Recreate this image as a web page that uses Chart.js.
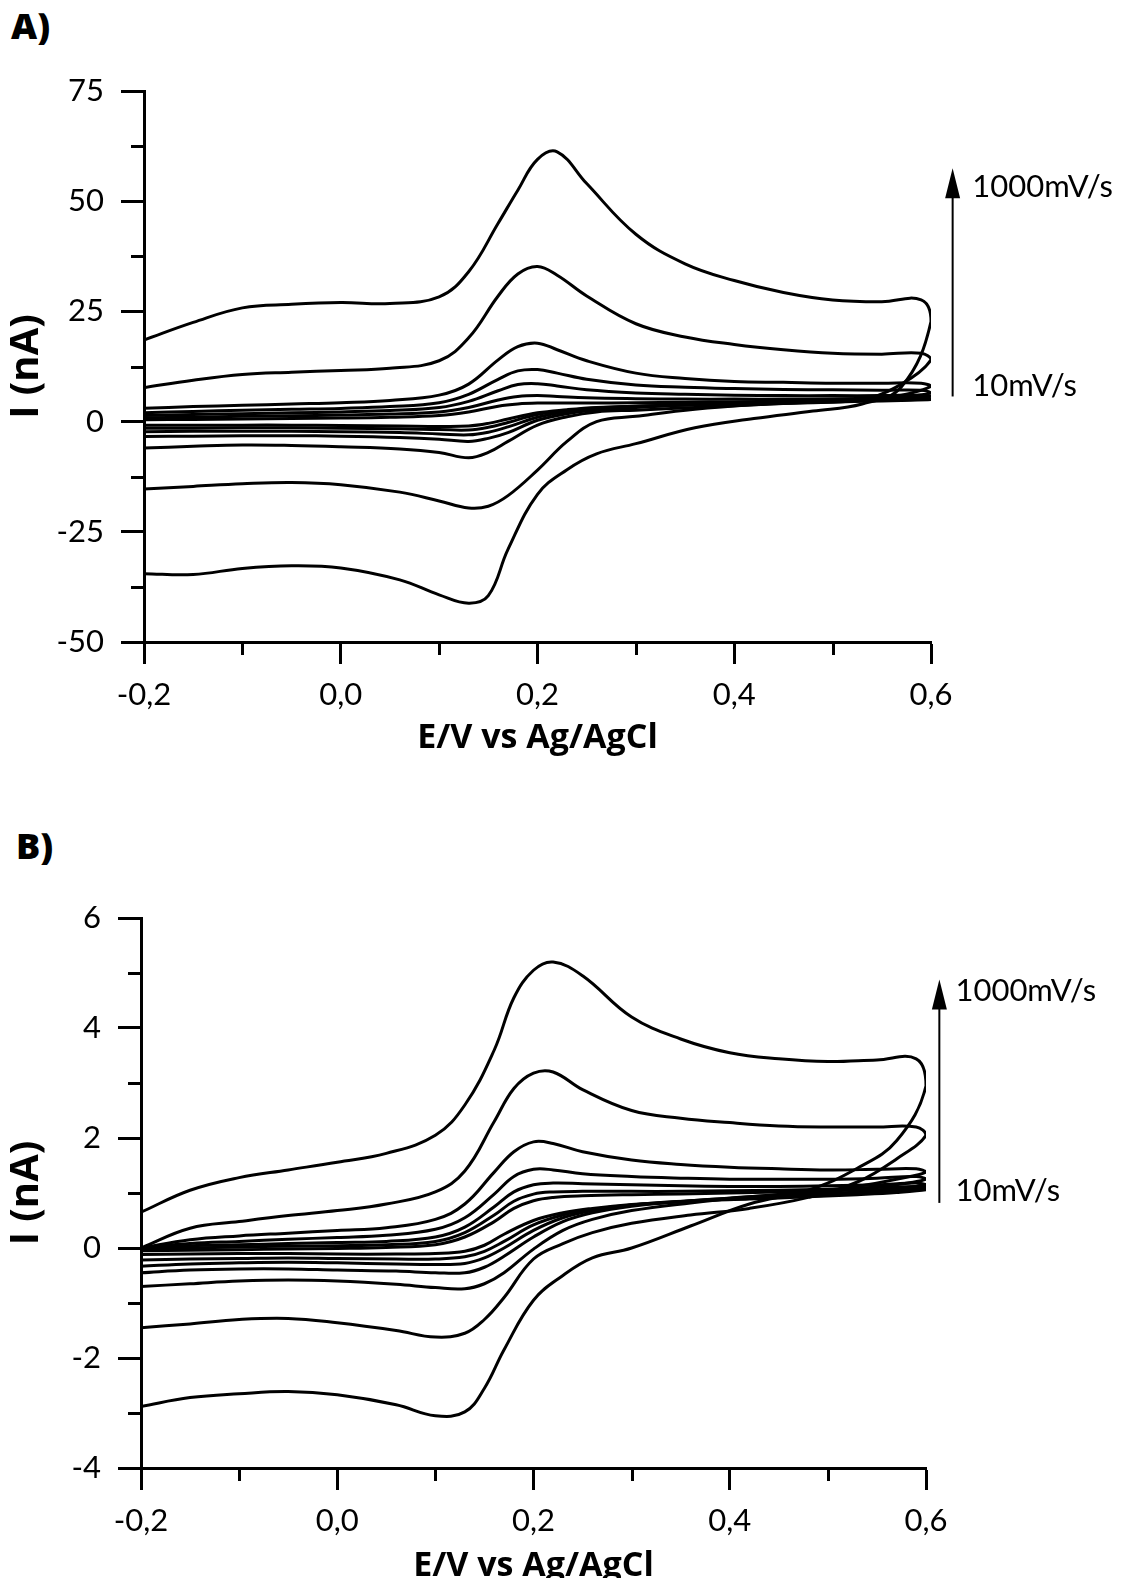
<!DOCTYPE html>
<html>
<head>
<meta charset="utf-8">
<script src="https://cdn.jsdelivr.net/npm/chart.js@4.4.0/dist/chart.umd.min.js"></script>
<style>
  html, body { margin: 0; padding: 0; background: #fff; }
  body { width: 1122px; height: 1578px; overflow: hidden; position: relative; }
  canvas { position: absolute; left: 0; }
  #chartA { top: 0; }
  #chartB { top: 780px; }
  .panel { position: absolute; font: 800 36px "Open Sans", sans-serif; color: #000; }
</style>
</head>
<body>
<div class="panel" style="left:11px; top:1px;">A)</div>
<div class="panel" style="left:16px; top:821px;">B)</div>
<canvas id="chartA" width="1122" height="780"></canvas>
<canvas id="chartB" width="1122" height="820"></canvas>
<script>
// potential grid (V vs Ag/AgCl), forward sweep then reverse sweep
const potFwd = [-0.2, -0.15, -0.1, -0.05, 0, 0.05, 0.1, 0.13, 0.16, 0.18, 0.2, 0.22, 0.25, 0.3, 0.35, 0.4, 0.45, 0.5, 0.55, 0.59];
const potRev = [0.6, 0.57, 0.53, 0.48, 0.42, 0.36, 0.3, 0.26, 0.23, 0.2, 0.17, 0.15, 0.13, 0.1, 0.06, 0, -0.05, -0.1, -0.15, -0.2];

// --- panel A currents (nA) ---
const a1000Fwd = [18.5, 22.5, 25.8, 26.6, 27, 26.8, 28.3, 34, 45, 52.5, 59.5, 61.2, 54, 42.5, 35.8, 32, 29.3, 27.6, 27.2, 27.6];
const a1000Rev = [22.7, 7.9, 4.0, 2.4, 0.7, -1.4, -5.0, -7.3, -10.9, -16.5, -29, -39.5, -41.2, -39.3, -35.9, -33.2, -32.7, -33.3, -34.7, -34.5];
const a500Fwd = [7.7, 9.4, 10.7, 11.2, 11.6, 12.1, 13.8, 19, 28.5, 33.5, 35.2, 33.2, 28.5, 22.2, 19.2, 17.5, 16.3, 15.5, 15.3, 15.5];
const a500Rev = [14.0, 8.5, 5.0, 4.4, 3.8, 2.8, 1.2, 0, -4.5, -11, -16.8, -19.2, -19.6, -18, -16, -14.3, -13.8, -14.1, -14.7, -15.3];
const a200Fwd = [3.0, 3.4, 3.7, 4.0, 4.3, 4.8, 6.0, 8.5, 14, 17, 17.8, 16.3, 13.8, 11.0, 9.8, 9.1, 8.9, 8.7, 8.7, 8.7];
const a200Rev = [8.0, 6.0, 5.0, 4.5, 3.8, 3.2, 2.6, 2.2, 1.1, -0.8, -4.5, -7, -8.2, -7.0, -6.2, -5.7, -5.4, -5.3, -5.6, -6.0];
const a100Fwd = [2.0, 2.3, 2.6, 2.8, 3.0, 3.4, 4.3, 6.2, 9.6, 11.5, 11.8, 11.0, 9.6, 8.3, 7.8, 7.5, 7.3, 7.2, 7.1, 7.1];
const a100Rev = [6.5, 5.6, 5.0, 4.6, 4.2, 3.8, 3.2, 2.6, 1.8, 0.3, -2.5, -3.8, -4.5, -4.0, -3.6, -3.3, -3.2, -3.2, -3.3, -3.4];
const a50Fwd = [1.4, 1.6, 1.8, 2.0, 2.2, 2.5, 3.2, 4.6, 7.0, 8.4, 8.6, 8.1, 7.2, 6.5, 6.2, 6.0, 5.9, 5.9, 5.9, 6.0];
const a50Rev = [5.8, 5.3, 4.9, 4.5, 4.2, 3.9, 3.4, 2.9, 2.2, 1.0, -1.2, -2.4, -3.0, -2.8, -2.5, -2.3, -2.2, -2.2, -2.2, -2.3];
const a25Fwd = [0.9, 1.0, 1.2, 1.3, 1.5, 1.7, 2.2, 3.2, 4.9, 5.7, 5.9, 5.7, 5.4, 5.2, 5.1, 5.1, 5.1, 5.2, 5.3, 5.4];
const a25Rev = [5.2, 4.9, 4.7, 4.4, 4.1, 3.9, 3.5, 3.1, 2.5, 1.6, -0.2, -1.3, -1.9, -1.8, -1.6, -1.5, -1.4, -1.4, -1.5, -1.5];
const a10Fwd = [0.4, 0.5, 0.6, 0.7, 0.8, 1.0, 1.4, 2.2, 3.5, 4.0, 4.2, 4.2, 4.2, 4.3, 4.4, 4.5, 4.6, 4.8, 5.0, 5.1];
const a10Rev = [5.0, 4.8, 4.6, 4.3, 4.0, 3.8, 3.5, 3.2, 2.7, 2.0, 0.6, -0.4, -1.0, -1.1, -1.0, -0.9, -0.8, -0.8, -0.8, -0.8];

// --- panel B currents (nA) ---
const b1000Fwd = [0.65, 1.05, 1.28, 1.42, 1.56, 1.72, 2.05, 2.6, 3.6, 4.55, 5.05, 5.2, 4.95, 4.2, 3.8, 3.55, 3.44, 3.39, 3.42, 3.44];
const b1000Rev = [2.95, 1.95, 1.45, 1.05, 0.8, 0.4, 0.0, -0.18, -0.5, -0.95, -1.85, -2.55, -2.98, -3.05, -2.85, -2.67, -2.61, -2.65, -2.72, -2.88];
const b500Fwd = [0.0, 0.36, 0.48, 0.59, 0.68, 0.8, 1.02, 1.4, 2.3, 2.9, 3.18, 3.2, 2.88, 2.5, 2.36, 2.28, 2.22, 2.2, 2.2, 2.2];
const b500Rev = [2.05, 1.62, 1.2, 0.92, 0.72, 0.6, 0.45, 0.28, 0.08, -0.2, -0.9, -1.3, -1.55, -1.62, -1.5, -1.36, -1.28, -1.3, -1.38, -1.45];
const b200Fwd = [0.0, 0.15, 0.22, 0.27, 0.32, 0.37, 0.52, 0.8, 1.38, 1.75, 1.93, 1.9, 1.75, 1.6, 1.52, 1.47, 1.44, 1.42, 1.43, 1.44];
const b200Rev = [1.38, 1.25, 1.12, 1.02, 0.93, 0.82, 0.68, 0.52, 0.32, -0.02, -0.45, -0.65, -0.74, -0.72, -0.66, -0.6, -0.58, -0.6, -0.65, -0.7];
const b100Fwd = [0.0, 0.08, 0.12, 0.16, 0.19, 0.23, 0.34, 0.55, 0.98, 1.3, 1.43, 1.42, 1.35, 1.3, 1.27, 1.25, 1.25, 1.25, 1.27, 1.3];
const b100Rev = [1.25, 1.15, 1.08, 1.0, 0.93, 0.86, 0.76, 0.64, 0.48, 0.2, -0.15, -0.35, -0.45, -0.45, -0.42, -0.4, -0.38, -0.38, -0.4, -0.45];
const b50Fwd = [0.0, 0.04, 0.06, 0.08, 0.1, 0.12, 0.2, 0.38, 0.75, 1.02, 1.15, 1.18, 1.17, 1.15, 1.13, 1.12, 1.12, 1.13, 1.15, 1.18];
const b50Rev = [1.15, 1.08, 1.02, 0.97, 0.92, 0.86, 0.78, 0.68, 0.55, 0.32, 0.0, -0.18, -0.28, -0.3, -0.29, -0.27, -0.26, -0.27, -0.29, -0.33];
const b25Fwd = [-0.02, 0.0, 0.02, 0.03, 0.04, 0.06, 0.12, 0.28, 0.6, 0.85, 0.98, 1.02, 1.03, 1.03, 1.03, 1.04, 1.05, 1.07, 1.1, 1.12];
const b25Rev = [1.1, 1.04, 0.99, 0.94, 0.9, 0.85, 0.78, 0.7, 0.6, 0.42, 0.12, -0.06, -0.16, -0.2, -0.2, -0.19, -0.18, -0.19, -0.2, -0.22];
const b10Fwd = [-0.05, -0.04, -0.03, -0.02, -0.01, 0.01, 0.06, 0.2, 0.48, 0.72, 0.86, 0.92, 0.95, 0.97, 0.98, 1.0, 1.02, 1.04, 1.06, 1.08];
const b10Rev = [1.06, 1.01, 0.97, 0.93, 0.89, 0.85, 0.79, 0.72, 0.64, 0.5, 0.25, 0.05, -0.06, -0.1, -0.11, -0.11, -0.1, -0.1, -0.11, -0.12];

// axis ranges / ticks
const xRange = [-0.2, 0.6, 0.2];
const yRangeA = [-50, 75, 25];
const yRangeB = [-4, 6, 2];

// scan-rate arrow labels
const rateHigh = "1000mV/s";
const rateLow = "10mV/s";

function loop(fwd, rev) {
  const pts = potFwd.map((e, i) => ({ x: e, y: fwd[i] }));
  return pts.concat(potRev.map((e, i) => ({ x: e, y: rev[i] })));
}

function ds(fwd, rev) {
  return { data: loop(fwd, rev), showLine: true, borderColor: "#000", borderWidth: 3,
           pointRadius: 0, tension: 0.4, fill: false };
}

// minor ticks halfway between the major ones (Origin style)
const minorTicks = {
  id: "minorTicks",
  afterDraw(chart) {
    const { ctx, chartArea, scales } = chart;
    ctx.save();
    ctx.strokeStyle = "#000";
    ctx.lineWidth = 3;
    const xs = scales.x.ticks, ys = scales.y.ticks;
    for (let i = 0; i < xs.length - 1; i++) {
      const px = Math.round(scales.x.getPixelForValue((xs[i].value + xs[i + 1].value) / 2)) + 0.5;
      ctx.beginPath(); ctx.moveTo(px, chartArea.bottom); ctx.lineTo(px, chartArea.bottom + 13); ctx.stroke();
    }
    for (let i = 0; i < ys.length - 1; i++) {
      const py = Math.round(scales.y.getPixelForValue((ys[i].value + ys[i + 1].value) / 2)) + 0.5;
      ctx.beginPath(); ctx.moveTo(chartArea.left, py); ctx.lineTo(chartArea.left - 13, py); ctx.stroke();
    }
    ctx.restore();
  }
};

// arrow showing increasing scan rate
const rateArrow = {
  id: "rateArrow",
  afterDraw(chart, args, o) {
    const { ctx, scales: { x, y } } = chart;
    const ax = x.getPixelForValue(o.e);
    const y0 = y.getPixelForValue(o.from), y1 = y.getPixelForValue(o.to);
    ctx.save();
    ctx.strokeStyle = "#000"; ctx.fillStyle = "#000"; ctx.lineWidth = 2;
    ctx.beginPath(); ctx.moveTo(ax, y0); ctx.lineTo(ax, y1 + 20); ctx.stroke();
    ctx.beginPath(); ctx.moveTo(ax, y1); ctx.lineTo(ax - 7.5, y1 + 30); ctx.lineTo(ax + 7.5, y1 + 30); ctx.closePath(); ctx.fill();
    ctx.font = "31px Lato, sans-serif";
    ctx.textAlign = "left"; ctx.textBaseline = "middle";
    const tx = x.getPixelForValue(o.textE);
    ctx.fillText(rateHigh, tx, y.getPixelForValue(o.hiY));
    ctx.fillText(rateLow, tx, y.getPixelForValue(o.loY));
    ctx.restore();
  }
};

function makeChart(id, sets, yr, lay, arrow) {
  return new Chart(document.getElementById(id), {
    type: "scatter",
    data: { datasets: sets },
    plugins: [minorTicks, rateArrow],
    options: {
      responsive: false,
      animation: false,
      devicePixelRatio: 1,
      layout: { padding: { top: lay.top, right: lay.right, bottom: 0, left: 0 } },
      plugins: { legend: { display: false }, tooltip: { enabled: false }, rateArrow: arrow },
      scales: {
        x: {
          type: "linear", min: xRange[0], max: xRange[1],
          ticks: { stepSize: xRange[2], color: "#000", padding: 12,
                   font: { family: "Lato", size: 31 },
                   callback: v => v.toFixed(1).replace(".", ",") },
          grid: { drawOnChartArea: false, drawTicks: true, tickLength: 22, tickWidth: 3, tickColor: "#000" },
          border: { display: true, color: "#000", width: 3 },
          title: { display: true, text: "E/V vs Ag/AgCl", color: "#000",
                   font: { family: "Open Sans", size: 34, weight: "bold" },
                   padding: { top: 0, bottom: lay.titlePad } },
          afterFit: s => { s.height = lay.xh; }
        },
        y: {
          type: "linear", min: yr[0], max: yr[1],
          ticks: { stepSize: yr[2], color: "#000", padding: 17,
                   font: { family: "Lato", size: 31 } },
          grid: { drawOnChartArea: false, drawTicks: true, tickLength: 23, tickWidth: 3, tickColor: "#000" },
          border: { display: true, color: "#000", width: 3 },
          title: { display: true, text: "I (nA)", color: "#000",
                   font: { family: "Open Sans", size: 40, weight: "bold" },
                   padding: { top: 3, bottom: 0 } },
          afterFit: s => { s.width = lay.yw; }
        }
      }
    }
  });
}

makeChart("chartA", [
  ds(a1000Fwd, a1000Rev), ds(a500Fwd, a500Rev), ds(a200Fwd, a200Rev), ds(a100Fwd, a100Rev),
  ds(a50Fwd, a50Rev), ds(a25Fwd, a25Rev), ds(a10Fwd, a10Rev)
], yRangeA, { top: 91, right: 191, xh: 138, yw: 144, titlePad: 21 },
  { e: 0.622, from: 5.7, to: 57.5, textE: 0.642, hiY: 53.2, loY: 8.1 });

makeChart("chartB", [
  ds(b1000Fwd, b1000Rev), ds(b500Fwd, b500Rev), ds(b200Fwd, b200Rev), ds(b100Fwd, b100Rev),
  ds(b50Fwd, b50Rev), ds(b25Fwd, b25Rev), ds(b10Fwd, b10Rev)
], yRangeB, { top: 138, right: 196, xh: 132, yw: 141, titlePad: 13 },
  { e: 0.6136, from: 0.82, to: 4.88, textE: 0.63, hiY: 4.67, loY: 1.04 });
</script>
</body>
</html>
